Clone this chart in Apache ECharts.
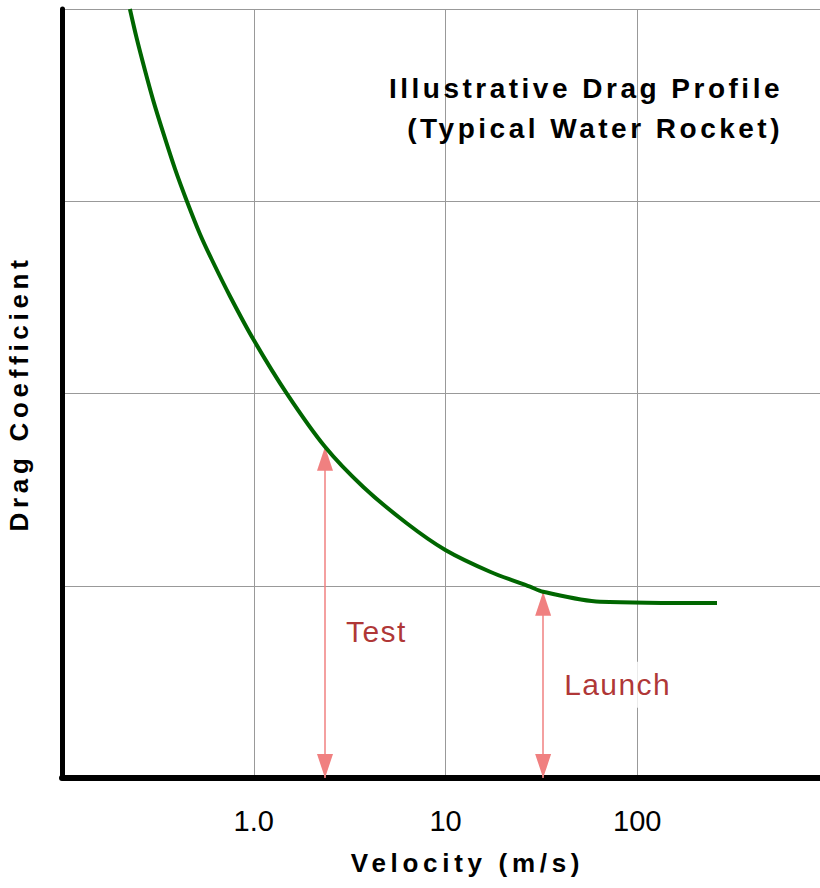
<!DOCTYPE html>
<html>
<head>
<meta charset="utf-8">
<script src="https://cdn.jsdelivr.net/npm/echarts@6/dist/echarts.min.js"></script>
<style>
html,body{margin:0;padding:0;background:#fff;}
#c{width:820px;height:888px;}
#c text[style*="bold"]{letter-spacing:4.7px;}
#c text[style*="28px"]{letter-spacing:3.5px;}
#c text[style*="30px"]{letter-spacing:1.4px;}
</style>
</head>
<body>
<div id="c"></div>
<script>
// Curve (x is velocity in m/s on a log axis)
const velocity = [0.226, 0.245, 0.271, 0.299, 0.338, 0.388, 0.447, 0.524, 0.604, 0.752, 0.995,
                  1.485, 2.353, 3.727, 6.277, 9.98, 17.07, 27.59, 32.25, 63.93, 260.5];
const dragCoef = [4.0, 3.849, 3.680, 3.525, 3.353, 3.170, 3.003, 2.830, 2.697, 2.506, 2.282,
                  2.001, 1.723, 1.514, 1.325, 1.186, 1.073, 0.995, 0.969, 0.917, 0.910];

// Annotations
const markerNames = ['Test', 'Launch'];
const markerVelocity = [2.353, 32.3];
const markerDrag = [1.723, 0.969];
const markerLabelY = [0.76, 0.485];

// Tick labels
const tickValues = [1, 10, 100];
const tickLabels = ['1.0', '10', '100'];

const chart = echarts.init(document.getElementById('c'), null, {renderer: 'svg'});
const font = '"Liberation Sans", Arial, Helvetica, sans-serif';

chart.setOption({
  animation: false,
  backgroundColor: '#fff',
  title: {
    text: 'Illustrative Drag Profile\n(Typical Water Rocket)',
    left: 778,
    top: 63,
    textAlign: 'right',
    textStyle: {fontFamily: font, fontWeight: 'bold', fontSize: 28, lineHeight: 40, color: '#000'}
  },
  grid: {left: 62, width: 767, top: 9, bottom: 110, containLabel: false, outerBoundsMode: 'none'},
  xAxis: {
    type: 'log', logBase: 10, min: 0.1, max: 1000,
    name: 'Velocity (m/s)', nameLocation: 'middle', nameGap: 72,
    nameTextStyle: {fontFamily: font, fontWeight: 'bold', fontSize: 26, color: '#000', padding: [0, 0, 0, 44]},
    axisLine: {show: true, onZero: false, lineStyle: {color: '#000', width: 6}},
    axisTick: {show: false},
    axisLabel: {
      margin: 28, fontFamily: font, fontSize: 29, color: '#000',
      formatter: function (v) {
        const i = tickValues.findIndex(t => Math.abs(t - v) < 1e-6 * t);
        return i >= 0 ? tickLabels[i] : '';
      }
    },
    splitLine: {show: true, lineStyle: {color: '#999', width: 1}}
  },
  yAxis: {
    type: 'value', min: 0, max: 4, interval: 1,
    name: 'Drag Coefficient', nameLocation: 'middle', nameGap: 30,
    nameTextStyle: {fontFamily: font, fontWeight: 'bold', fontSize: 26, color: '#000'},
    axisLine: {show: true, lineStyle: {color: '#000', width: 5}},
    axisTick: {show: false},
    axisLabel: {show: false},
    splitLine: {show: true, lineStyle: {color: '#999', width: 1}}
  },
  series: [
    {
      type: 'line',
      data: velocity.map((v, i) => [v, dragCoef[i]]),
      smooth: 0.3,
      showSymbol: false,
      lineStyle: {color: '#006600', width: 4},
      z: 5,
      markLine: {
        silent: true,
        symbol: ['triangle', 'triangle'],
        symbolSize: [16, 24],
        symbolOffset: [[0, 12], [0, 12]],
        label: {show: false},
        lineStyle: {color: '#f08080', width: 1.5, type: 'solid'},
        itemStyle: {color: '#f08080'},
        emphasis: {disabled: true},
        data: markerVelocity.map((v, i) => [{coord: [v, 0]}, {coord: [v, markerDrag[i]]}])
      }
    },
    {
      type: 'scatter',
      symbolSize: 0,
      silent: true,
      z: 6,
      data: markerVelocity.map((v, i) => ({value: [v, markerLabelY[i]], name: markerNames[i]})),
      label: {
        show: true, position: 'right', distance: 18,
        formatter: p => p.name,
        fontFamily: font, fontSize: 30, color: '#9a0000',
        backgroundColor: '#fff', padding: [8, 3]
      }
    }
  ]
});
</script>
</body>
</html>
